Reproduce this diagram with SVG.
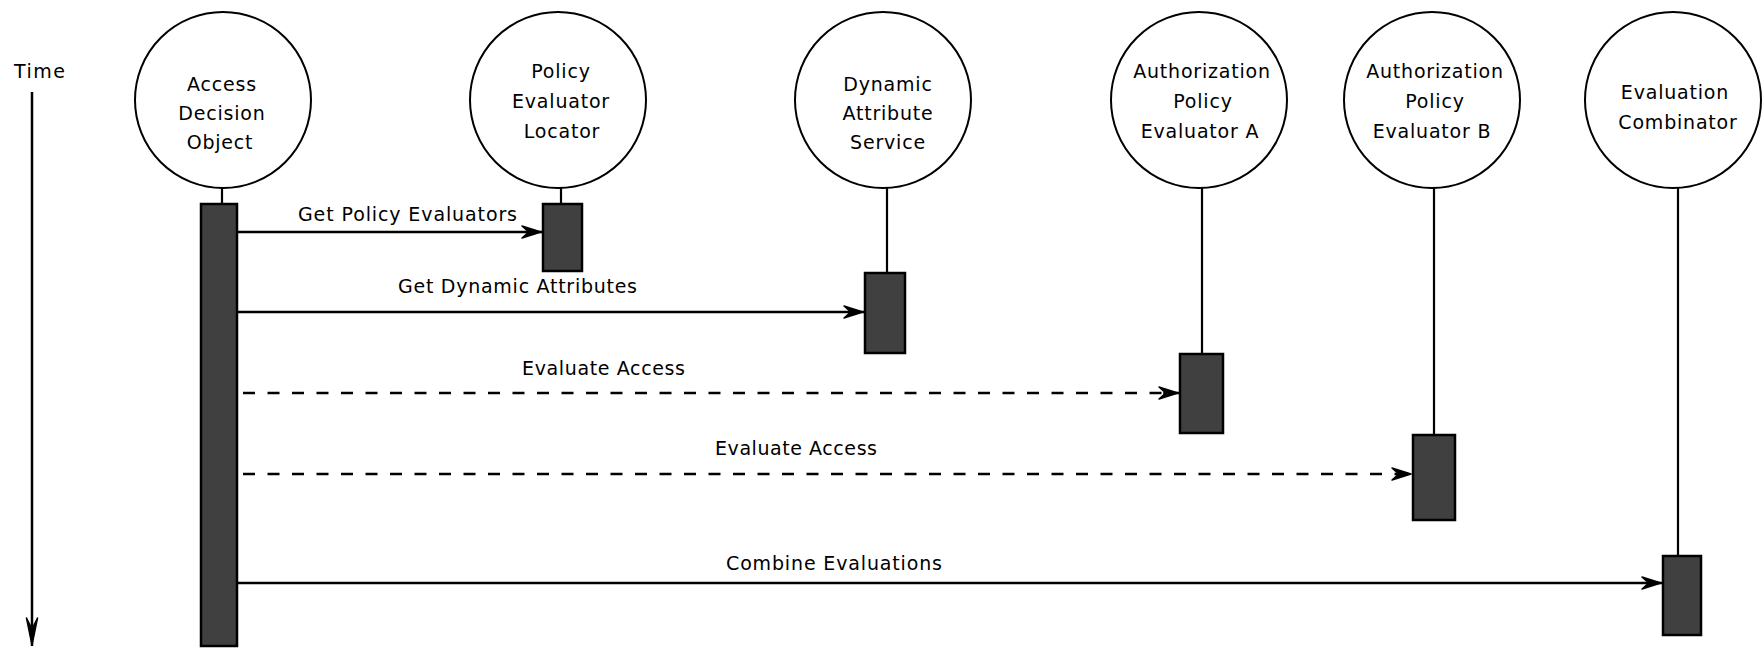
<svg xmlns="http://www.w3.org/2000/svg" width="1762" height="648" viewBox="0 0 1762 648">
<style>
  .bg{fill:#ffffff}
  .obj{fill:#ffffff;stroke:#000;stroke-width:2}
  .t{font-family:"DejaVu Sans","Liberation Sans",sans-serif;font-size:19px;letter-spacing:0.8px;fill:#000;text-anchor:middle}
  .lbl{font-family:"DejaVu Sans","Liberation Sans",sans-serif;font-size:19px;fill:#000}
  .life{stroke:#000;stroke-width:2.2;fill:none}
  .bar{fill:#404040;stroke:#000;stroke-width:2.5}
  .msg{stroke:#000;stroke-width:2.5;fill:none}
  .dash{stroke-dasharray:12 12.5}
  .head{fill:#000;stroke:#000;stroke-width:1.5;stroke-linejoin:round}
</style>
<defs>
  <marker id="ah" markerUnits="userSpaceOnUse" viewBox="-26 -10 28 20" refX="0" refY="0" markerWidth="28" markerHeight="20" orient="auto">
    <path class="head" d="M-1,0 L-20,-6 L-15,-1.5 L-15,1.5 L-20,6 Z"/>
  </marker>
  <marker id="ahT" markerUnits="userSpaceOnUse" viewBox="-34 -10 36 20" refX="0" refY="0" markerWidth="36" markerHeight="20" orient="auto">
    <path class="head" d="M-1,0 L-28,-5.5 L-20,-1.5 L-20,1.5 L-28,5.5 Z"/>
  </marker>
</defs>
<rect class="bg" x="0" y="0" width="1762" height="648"/>

<g id="time-axis">
  <text class="lbl" x="14" y="78" textLength="51" lengthAdjust="spacing">Time</text>
  <line class="msg" x1="32" y1="92" x2="32" y2="646" marker-end="url(#ahT)"/>
</g>

<g id="node-access-decision-object">
  <circle class="obj" cx="223" cy="100" r="88"/>
  <text class="t" x="222" y="91">Access</text>
  <text class="t" x="222" y="120">Decision</text>
  <text class="t" x="220" y="149">Object</text>
  <line class="life" x1="222" y1="188" x2="222" y2="203"/>
  <rect class="bar" x="201" y="204" width="36" height="442"/>
</g>

<g id="node-policy-evaluator-locator">
  <circle class="obj" cx="558" cy="100" r="88"/>
  <text class="t" x="561" y="78">Policy</text>
  <text class="t" x="561" y="108">Evaluator</text>
  <text class="t" x="562" y="138">Locator</text>
  <line class="life" x1="561" y1="188" x2="561" y2="203"/>
  <rect class="bar" x="543" y="204" width="39" height="67"/>
</g>

<g id="node-dynamic-attribute-service">
  <circle class="obj" cx="883" cy="100" r="88"/>
  <text class="t" x="888" y="91">Dynamic</text>
  <text class="t" x="888" y="120">Attribute</text>
  <text class="t" x="888" y="149">Service</text>
  <line class="life" x1="887" y1="188" x2="887" y2="272"/>
  <rect class="bar" x="865" y="273" width="40" height="80"/>
</g>

<g id="node-authorization-policy-evaluator-a">
  <circle class="obj" cx="1199" cy="100" r="88"/>
  <text class="t" x="1202" y="78">Authorization</text>
  <text class="t" x="1203" y="108">Policy</text>
  <text class="t" x="1200" y="138">Evaluator A</text>
  <line class="life" x1="1202" y1="188" x2="1202" y2="353"/>
  <rect class="bar" x="1180" y="354" width="43" height="79"/>
</g>

<g id="node-authorization-policy-evaluator-b">
  <circle class="obj" cx="1432" cy="100" r="88"/>
  <text class="t" x="1435" y="78">Authorization</text>
  <text class="t" x="1435" y="108">Policy</text>
  <text class="t" x="1432" y="138">Evaluator B</text>
  <line class="life" x1="1434" y1="188" x2="1434" y2="434"/>
  <rect class="bar" x="1413" y="435" width="42" height="85"/>
</g>

<g id="node-evaluation-combinator">
  <circle class="obj" cx="1673" cy="100" r="88"/>
  <text class="t" x="1675" y="99">Evaluation</text>
  <text class="t" x="1678" y="129">Combinator</text>
  <line class="life" x1="1678" y1="188" x2="1678" y2="555"/>
  <rect class="bar" x="1663" y="556" width="38" height="79"/>
</g>

<g id="connectors">
  <line class="msg" x1="238" y1="232" x2="542" y2="232" marker-end="url(#ah)"/>
  <text class="lbl" x="298" y="221" textLength="219" lengthAdjust="spacing">Get Policy Evaluators</text>

  <line class="msg" x1="238" y1="312" x2="864" y2="312" marker-end="url(#ah)"/>
  <text class="lbl" x="398" y="293" textLength="239" lengthAdjust="spacing">Get Dynamic Attributes</text>

  <line class="msg dash" x1="243" y1="393" x2="1179" y2="393" marker-end="url(#ah)"/>
  <text class="lbl" x="522" y="375" textLength="163" lengthAdjust="spacing">Evaluate Access</text>

  <line class="msg dash" x1="243" y1="474" x2="1412" y2="474" marker-end="url(#ah)"/>
  <text class="lbl" x="715" y="455" textLength="162" lengthAdjust="spacing">Evaluate Access</text>

  <line class="msg" x1="238" y1="583" x2="1662" y2="583" marker-end="url(#ah)"/>
  <text class="lbl" x="726" y="570" textLength="216" lengthAdjust="spacing">Combine Evaluations</text>
</g>
</svg>
